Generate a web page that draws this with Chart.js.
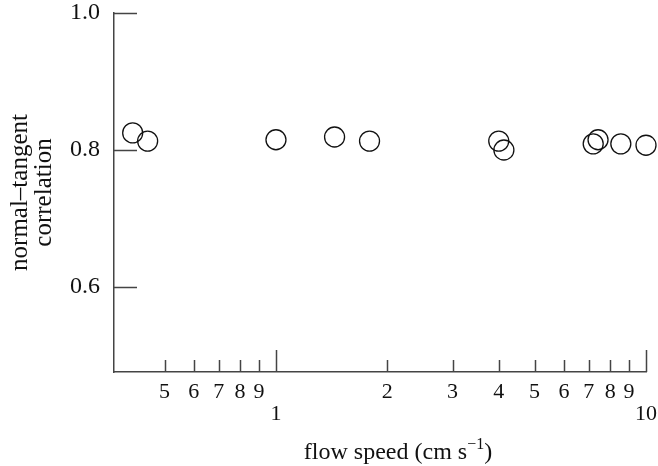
<!DOCTYPE html>
<html>
<head>
<meta charset="utf-8">
<script src="https://cdn.jsdelivr.net/npm/chart.js@4"></script>
<style>
  body { margin: 0; background: #fff; }
  #wrap { width: 658px; height: 466px; }
</style>
</head>
<body>
<div id="wrap"><canvas id="chart"></canvas></div>
<script>
// flow speed (cm/s) and normal-tangent correlation
const flowSpeed = [0.41, 0.45, 1.0, 1.44, 1.79, 4.0, 4.13, 7.2, 7.42, 8.55, 10.0];
const correlation = [0.825, 0.813, 0.815, 0.819, 0.813, 0.813, 0.8, 0.809, 0.815, 0.809, 0.807];

const xTicks = [0.5, 0.6, 0.7, 0.8, 0.9, 1, 2, 3, 4, 5, 6, 7, 8, 9, 10];
const xMajor = [1, 10];
const yTicks = [0.6, 0.8, 1.0];

const axisColor = "#444";
const textColor = "#111";
const serif = "'Liberation Serif', 'DejaVu Serif', serif";

// ticks drawn inward from the axis lines, plus the x title with its superscript
const axisExtras = {
  id: "axisExtras",
  afterDraw(chart) {
    const ctx = chart.ctx;
    const x = chart.scales.x;
    const y = chart.scales.y;
    const area = chart.chartArea;
    ctx.save();
    ctx.strokeStyle = axisColor;
    ctx.lineWidth = 1.5;
    ctx.beginPath();
    xTicks.forEach(function (v) {
      const px = Math.round(x.getPixelForValue(v)) + 0.5;
      const len = xMajor.includes(v) ? 22 : 12;
      ctx.moveTo(px, area.bottom);
      ctx.lineTo(px, area.bottom - len);
    });
    yTicks.forEach(function (v) {
      const py = Math.round(y.getPixelForValue(v)) + 0.5;
      ctx.moveTo(area.left, py);
      ctx.lineTo(area.left + 23, py);
    });
    ctx.stroke();

    // x title: flow speed (cm s^-1)
    const main = "flow speed (cm s";
    const sup = "\u22121";
    const close = ")";
    ctx.fillStyle = textColor;
    ctx.textBaseline = "alphabetic";
    ctx.font = "24px " + serif;
    const w1 = ctx.measureText(main).width;
    const w3 = ctx.measureText(close).width;
    ctx.font = "16px " + serif;
    const w2 = ctx.measureText(sup).width;
    const total = w1 + w2 + w3;
    let tx = (area.left + area.right) / 2 + 18 - total / 2;
    const base = 459;
    ctx.font = "24px " + serif;
    ctx.fillText(main, tx, base);
    tx += w1;
    ctx.font = "16px " + serif;
    ctx.fillText(sup, tx, base - 10);
    tx += w2;
    ctx.font = "24px " + serif;
    ctx.fillText(close, tx, base);
    ctx.restore();
  },
};

new Chart(document.getElementById("chart"), {
  type: "scatter",
  data: {
    datasets: [
      {
        data: flowSpeed.map((s, i) => ({ x: s, y: correlation[i] })),
        backgroundColor: "rgba(0,0,0,0)",
        borderColor: "#111",
        borderWidth: 1.3,
        pointRadius: 10,
        pointHoverRadius: 10,
        clip: false,
      },
    ],
  },
  options: {
    responsive: true,
    maintainAspectRatio: false,
    animation: false,
    layout: { padding: { top: 13, right: 12, left: 0, bottom: 0 } },
    plugins: { legend: { display: false }, tooltip: { enabled: false } },
    scales: {
      x: {
        type: "logarithmic",
        min: 0.365,
        max: 10,
        afterBuildTicks: function (scale) {
          scale.ticks = xTicks.map((v) => ({ value: v }));
        },
        afterFit: function (scale) {
          scale.height = 94;
          scale.paddingLeft = 0;
          scale.paddingRight = 0;
        },
        grid: { display: true, drawOnChartArea: false, drawTicks: false },
        border: { display: true, color: axisColor, width: 1.5 },
        ticks: {
          autoSkip: false,
          maxRotation: 0,
          padding: 9,
          color: textColor,
          font: { family: serif, size: 22, lineHeight: 1.0 },
          callback: function (v) {
            if (v === 1 || v === 10) return ["", String(v)];
            if (v < 1) return String(Math.round(v * 10));
            return String(v);
          },
        },
        title: { display: false },
      },
      y: {
        min: 0.476,
        max: 1.0,
        afterBuildTicks: function (scale) {
          scale.ticks = yTicks.map((v) => ({ value: v }));
        },
        afterFit: function (scale) {
          scale.width = 114;
          scale.paddingTop = 0;
          scale.paddingBottom = 0;
        },
        grid: { display: true, drawOnChartArea: false, drawTicks: false },
        border: { display: true, color: axisColor, width: 1.5 },
        ticks: {
          padding: 14,
          color: textColor,
          font: { family: serif, size: 24 },
          callback: function (v) {
            return v.toFixed(1);
          },
        },
        title: {
          display: true,
          text: ["normal\u2013tangent", "correlation"],
          color: textColor,
          font: { family: serif, size: 25, lineHeight: 0.95 },
          padding: { top: 9, bottom: 0 },
        },
      },
    },
  },
  plugins: [axisExtras],
});
</script>
</body>
</html>
